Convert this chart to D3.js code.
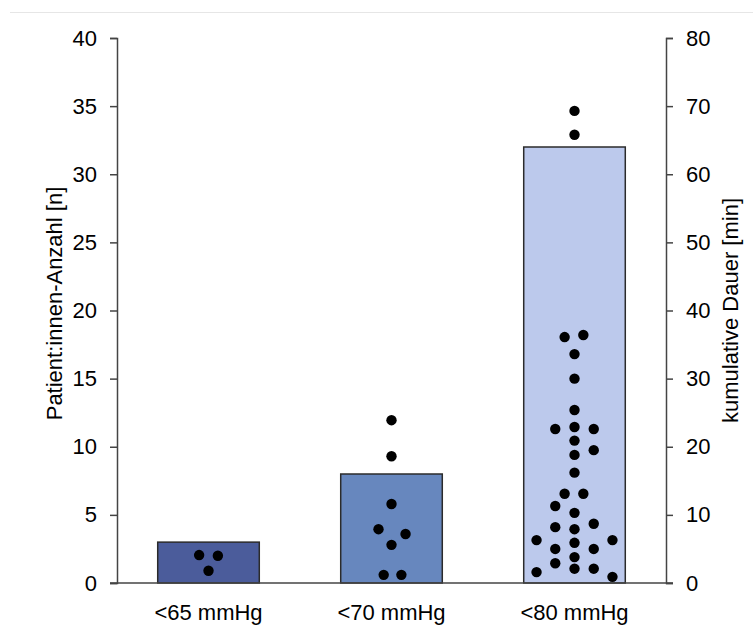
<!DOCTYPE html>
<html>
<head>
<meta charset="utf-8">
<script src="https://cdn.jsdelivr.net/npm/d3@7"></script>
<style>
  body { margin: 0; background: #fff; }
  text { font-family: "Liberation Sans", Arial, sans-serif; }
</style>
</head>
<body>
<div class="chart"></div>
<script>
// categories and patient counts (left axis)
const categories = ["<65 mmHg", "<70 mmHg", "<80 mmHg"];
const patientCounts = [3, 8, 32];
const barColors = ["#4b5c9b", "#6787be", "#bcc9ec"];

// cumulative duration per patient [min] (right axis), with horizontal swarm slot
const durations65 = [[4.1, -0.9], [4.0, 0.9], [1.8, 0]];
const durations70 = [[23.9, 0], [18.6, 0], [11.6, 0], [7.9, -1.25], [7.2, 1.35], [5.6, 0], [1.2, -0.75], [1.2, 0.95]];
const durations80 = [
  [69.3, 0], [65.8, 0],
  [36.1, -0.95], [36.4, 0.85], [33.6, 0], [30.0, 0], [25.4, 0],
  [22.6, -1.85], [22.9, 0], [22.6, 1.85], [20.9, 0], [19.5, 1.85], [18.8, 0], [16.2, 0],
  [13.1, -0.95], [13.1, 0.85], [11.3, -1.85], [10.3, 0],
  [8.2, -1.85], [7.9, 0], [8.7, 1.85],
  [6.3, -3.65], [6.3, 3.65], [5.0, -1.85], [5.9, 0], [5.0, 1.85],
  [3.8, 0], [2.9, -1.85], [1.6, -3.65], [2.1, 0], [2.1, 1.85], [0.9, 3.65]
];
const durations = [durations65, durations70, durations80];

const leftTicks = [0, 5, 10, 15, 20, 25, 30, 35, 40];
const rightTicks = [0, 10, 20, 30, 40, 50, 60, 70, 80];

const width = 753, height = 630;
const margin = { top: 38, right: 90, bottom: 47, left: 117 };
const dotR = 5.2;
const tickLen = 7;

const svg = d3.select(".chart")
  .append("svg")
  .attr("width", width)
  .attr("height", height);

// faint separator at top
svg.append("line")
  .attr("x1", 10).attr("x2", width)
  .attr("y1", 12.5).attr("y2", 12.5)
  .attr("stroke", "#e6e6e6")
  .attr("stroke-width", 1);

const x = d3.scaleBand()
  .domain(categories)
  .range([margin.left, width - margin.right + 3])
  .paddingInner(0.445)
  .paddingOuter(0.2225);

const yLeft = d3.scaleLinear()
  .domain([0, 40])
  .range([height - margin.bottom, margin.top]);

const yRight = d3.scaleLinear()
  .domain([0, 80])
  .range([height - margin.bottom, margin.top]);

const x0 = x.range()[0], x1 = x.range()[1];

// bars
svg.selectAll(".bar")
  .data(categories)
  .join("rect")
  .attr("class", "bar")
  .attr("x", d => x(d))
  .attr("width", x.bandwidth())
  .attr("y", (d, i) => yLeft(patientCounts[i]))
  .attr("height", (d, i) => yLeft(0) - yLeft(patientCounts[i]))
  .attr("fill", (d, i) => barColors[i])
  .attr("stroke", "#2b2b2b")
  .attr("stroke-width", 1.5);

// dots
categories.forEach((c, i) => {
  const cx = x(c) + x.bandwidth() / 2;
  svg.append("g")
    .selectAll("circle")
    .data(durations[i])
    .join("circle")
    .attr("cx", d => cx + d[1] * dotR * 2)
    .attr("cy", d => yRight(d[0]))
    .attr("r", dotR)
    .attr("fill", "#000");
});

// axes
const axisColor = "#444";
const gl = svg.append("g")
  .attr("transform", `translate(${x0},0)`)
  .call(d3.axisLeft(yLeft).tickValues(leftTicks).tickSize(tickLen).tickSizeOuter(tickLen).tickPadding(13));

const gr = svg.append("g")
  .attr("transform", `translate(${x1},0)`)
  .call(d3.axisRight(yRight).tickValues(rightTicks).tickSize(tickLen).tickSizeOuter(tickLen).tickPadding(13));

const gb = svg.append("g")
  .attr("transform", `translate(0,${yLeft(0)})`)
  .call(d3.axisBottom(x).tickSize(0).tickPadding(21));
gb.select(".domain").remove();

svg.append("line")
  .attr("x1", x0 - tickLen).attr("x2", x1 + tickLen)
  .attr("y1", yLeft(0)).attr("y2", yLeft(0))
  .attr("stroke", axisColor)
  .attr("stroke-width", 1.5);

[gl, gr, gb].forEach(g => {
  g.selectAll(".domain, .tick line").attr("stroke", axisColor).attr("stroke-width", 1.5);
  g.selectAll("text")
    .attr("fill", "#000")
    .style("font-size", "22px")
    .style("font-family", "'Liberation Sans', Arial, sans-serif");
});

// axis titles
svg.append("text")
  .attr("transform", `translate(61.5,${(yLeft(0) + yLeft(40)) / 2 - 7}) rotate(-90)`)
  .attr("text-anchor", "middle")
  .style("font-size", "22px")
  .text("Patient:innen-Anzahl [n]");

svg.append("text")
  .attr("transform", `translate(738,${(yRight(0) + yRight(80)) / 2}) rotate(-90)`)
  .attr("text-anchor", "middle")
  .style("font-size", "22px")
  .text("kumulative Dauer [min]");
</script>
</body>
</html>
